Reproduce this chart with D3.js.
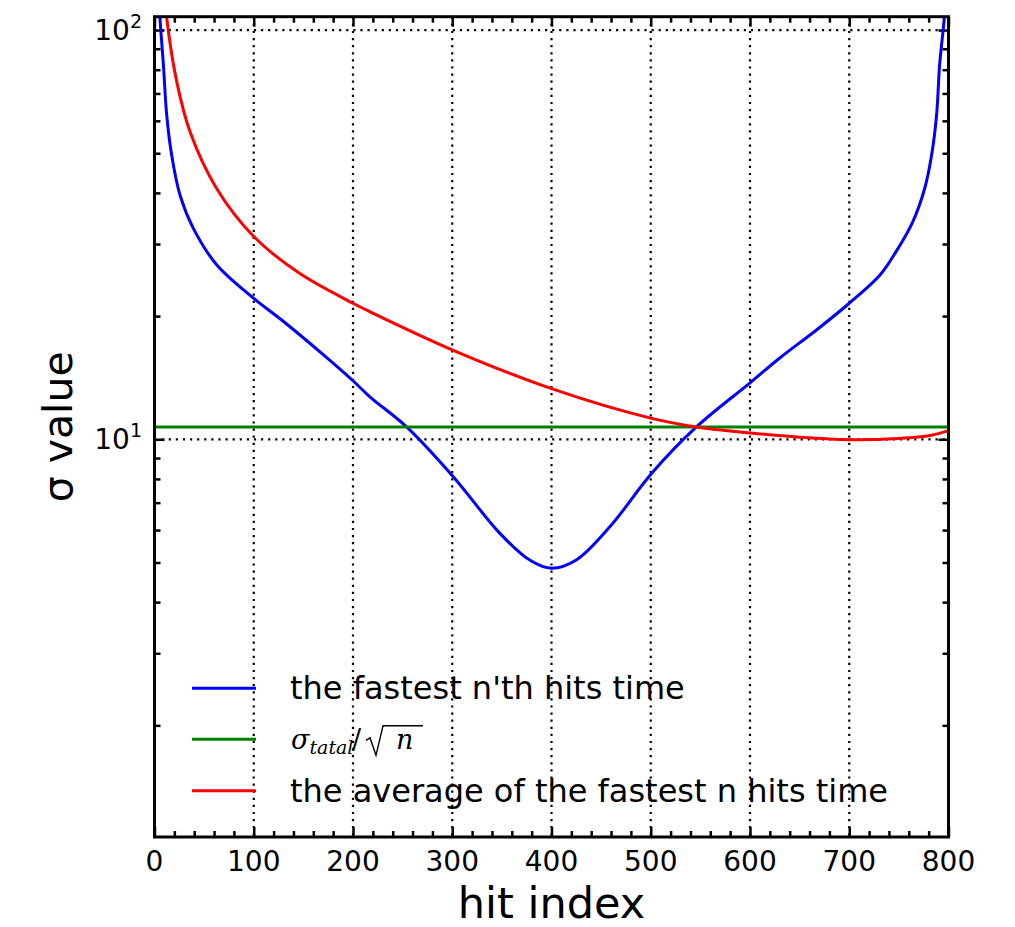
<!DOCTYPE html>
<html>
<head>
<meta charset="utf-8">
<script src="https://cdn.jsdelivr.net/npm/d3@7"></script>
<style>
  body { margin: 0; background: #fff; }
  text { font-family: "DejaVu Sans", sans-serif; fill: #000; }
</style>
</head>
<body>
<svg id="chart" width="1015" height="927"></svg>
<script>
// hit index / sigma values
const blueIdx = [3, 5.5, 9, 12.3, 17.3, 25.7, 39, 62.6, 100, 130, 170, 200, 217, 254, 301, 348, 378, 400, 425, 459, 501, 546, 601, 630, 667, 700, 731, 747, 764, 776, 783, 788, 791, 794.4, 797];
const blueVal = [140, 107, 82, 62, 49.5, 39.5, 32.8, 26.7, 22.1, 19.4, 16.1, 13.9, 12.7, 10.72, 8.1, 5.89, 5.07, 4.84, 5.07, 6.12, 8.26, 10.72, 13.8, 15.8, 18.5, 21.5, 25.2, 28.7, 34.0, 41.0, 49.5, 62, 82, 99, 115];

const greenIdx = [0, 800];
const greenVal = [10.72, 10.72];

const redIdx = [10, 12.3, 22.4, 35.8, 62.6, 100, 146.5, 200, 217, 301, 400, 501, 546, 601, 650, 700, 750, 780, 800];
const redVal = [125, 107, 74.8, 56.4, 41, 31.3, 25.4, 21.5, 20.5, 16.5, 13.3, 11.25, 10.72, 10.36, 10.12, 9.98, 10.05, 10.2, 10.5];

const xMajor = [0, 100, 200, 300, 400, 500, 600, 700, 800];
const xMinor = d3.range(0, 801, 20).filter(v => v % 100 !== 0);
const yMajor = [10, 100];
const yMinor = [2, 3, 4, 5, 6, 7, 8, 9, 20, 30, 40, 50, 60, 70, 80, 90];
const yMajorExp = ["1", "2"];

const seriesNames = ["the fastest n'th hits time", "sigma_tatal/sqrt(n)", "the average of the fastest n hits time"];
const seriesColors = ["#0000ff", "#008000", "#ff0000"];

const pL = 154.5, pR = 948.5, pT = 16.7, pB = 837;

const svg = d3.select("#chart");
const x = d3.scaleLinear().domain([0, 800]).range([pL, pR]);
const y = d3.scaleLog().domain([1.067, 107.8]).range([pB, pT]);

svg.append("defs").append("clipPath").attr("id", "plot")
  .append("rect").attr("x", pL).attr("y", pT)
  .attr("width", pR - pL).attr("height", pB - pT);

// dotted grid at major ticks
const grid = svg.append("g").attr("stroke", "#000").attr("stroke-width", 2.2)
  .attr("stroke-dasharray", "2.2,4.9");
grid.selectAll(".gx").data(xMajor.slice(1, -1)).join("line")
  .attr("x1", d => x(d)).attr("x2", d => x(d)).attr("y1", pT).attr("y2", pB);
grid.selectAll(".gy").data(yMajor).join("line")
  .attr("x1", pL).attr("x2", pR).attr("y1", d => y(d)).attr("y2", d => y(d));

// ticks pointing inward on all four sides
function ticks(axis, vals, size, tx, ty) {
  const g = svg.append("g").attr("transform", `translate(${tx},${ty})`)
    .call(axis.tickValues(vals).tickSize(-size).tickFormat(""));
  g.select(".domain").remove();
  g.selectAll("line").attr("stroke", "#000").attr("stroke-width", 2.5);
  return g;
}
ticks(d3.axisBottom(x), xMajor, 10, 0, pB);
ticks(d3.axisBottom(x), xMinor, 6, 0, pB);
ticks(d3.axisTop(x), xMajor, 10, 0, pT);
ticks(d3.axisTop(x), xMinor, 6, 0, pT);
ticks(d3.axisLeft(y), yMajor, 10, pL, 0);
ticks(d3.axisLeft(y), yMinor, 6, pL, 0);
ticks(d3.axisRight(y), yMajor, 10, pR, 0);
ticks(d3.axisRight(y), yMinor, 6, pR, 0);

// tick labels
svg.append("g").selectAll("text").data(xMajor).join("text")
  .attr("x", d => x(d)).attr("y", 871)
  .attr("text-anchor", "middle").attr("font-size", 28)
  .text(d => d);

const yl = svg.append("g").selectAll("text").data(yMajor).join("text")
  .attr("x", 142).attr("y", d => y(d) + 9.5)
  .attr("text-anchor", "end").attr("font-size", 28);
yl.append("tspan").text("10");
yl.append("tspan").attr("font-size", 19).attr("dy", -12).text((d, i) => yMajorExp[i]);

// curves
const line = d3.line().x(d => x(d[0])).y(d => y(d[1])).curve(d3.curveCatmullRom.alpha(0.5));
const series = [
  d3.zip(blueIdx, blueVal),
  d3.zip(greenIdx, greenVal),
  d3.zip(redIdx, redVal)
];
svg.append("g").attr("clip-path", "url(#plot)")
  .selectAll("path").data(series).join("path")
  .attr("d", line).attr("fill", "none")
  .attr("stroke", (d, i) => seriesColors[i]).attr("stroke-width", 3)
  .attr("stroke-linejoin", "round");

// frame
svg.append("rect").attr("x", pL).attr("y", pT)
  .attr("width", pR - pL).attr("height", pB - pT)
  .attr("fill", "none").attr("stroke", "#000").attr("stroke-width", 3);

// axis labels
svg.append("text").attr("x", (pL + pR) / 2).attr("y", 918)
  .attr("text-anchor", "middle").attr("font-size", 43).text("hit index");
svg.append("text").attr("transform", `translate(72,${(pT + pB) / 2}) rotate(-90)`)
  .attr("text-anchor", "middle").attr("font-size", 41).text("σ value");

// legend
const legY = [688.3, 739.3, 790.7];
const leg = svg.append("g");
leg.selectAll("line").data(seriesColors).join("line")
  .attr("x1", 192).attr("x2", 256)
  .attr("y1", (d, i) => legY[i]).attr("y2", (d, i) => legY[i])
  .attr("stroke", d => d).attr("stroke-width", 3);

leg.append("text").attr("x", 290).attr("y", legY[0] + 11)
  .attr("font-size", 32).text(seriesNames[0]);
leg.append("text").attr("x", 290).attr("y", legY[2] + 11)
  .attr("font-size", 32).text(seriesNames[2]);

// math label: sigma_tatal / sqrt(n)
const mt = leg.append("text").attr("x", 291).attr("y", legY[1] + 10)
  .style("font-family", "'DejaVu Serif', serif").attr("font-size", 27);
mt.append("tspan").attr("font-style", "italic").text("σ");
mt.append("tspan").attr("font-style", "italic").attr("font-size", 19).attr("dy", 5).text("tatal");
mt.append("tspan").attr("x", 352).attr("dy", -5).text("/");
mt.append("tspan").attr("x", 396).attr("font-style", "italic").text("n");
// radical sign with bar over n
const r0 = legY[1] + 10;
leg.append("path")
  .attr("d", `M366,${r0 - 9} L370,${r0 - 11.5} L376,${r0 + 6} L383,${r0 - 23.5} H423`)
  .attr("fill", "none").attr("stroke", "#000").attr("stroke-width", 1.4)
  .attr("stroke-linejoin", "miter");
</script>
</body>
</html>
